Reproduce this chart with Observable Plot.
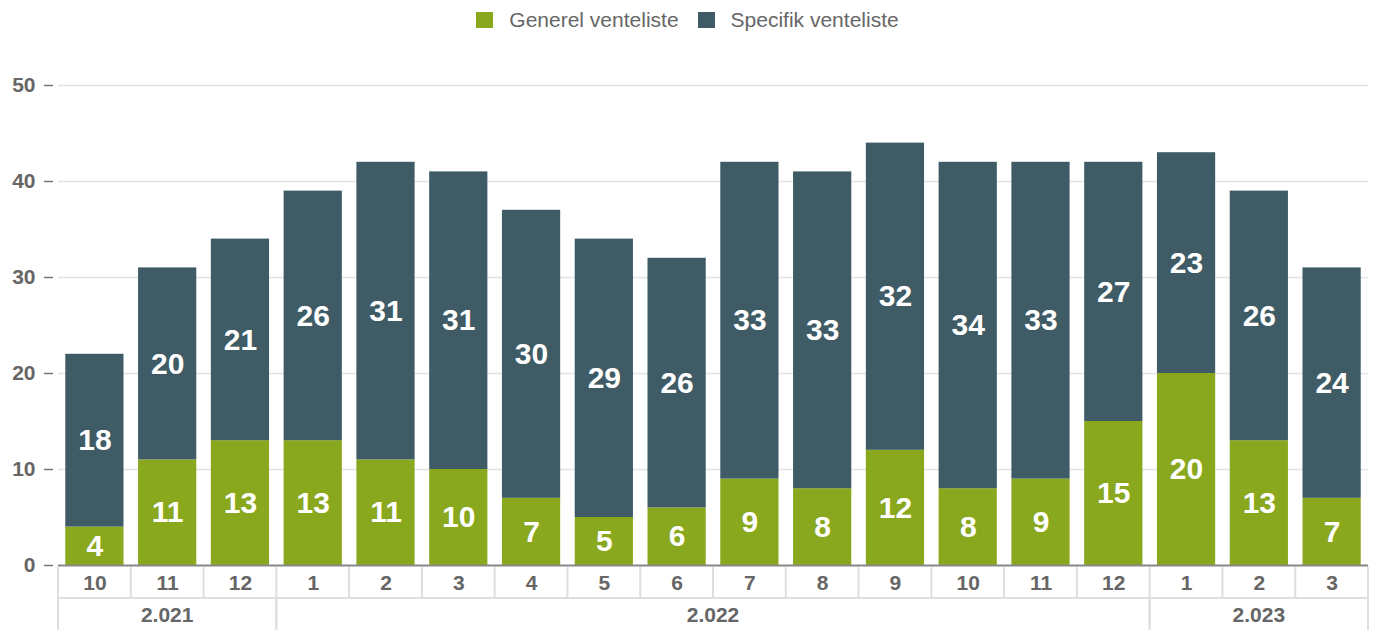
<!DOCTYPE html>
<html>
<head>
<meta charset="utf-8">
<script src="https://cdn.jsdelivr.net/npm/d3@7"></script>
<script src="https://cdn.jsdelivr.net/npm/@observablehq/plot@0.6"></script>
<style>
  html, body { margin: 0; padding: 0; background: #fff; font-family: "Liberation Sans", Arial, sans-serif; }
  #legend { height: 40px; display: flex; justify-content: center; align-items: center; font-size: 21px; color: #666; padding-left: 0px; box-sizing: border-box; }
  .item { display: flex; align-items: center; margin: 0 9.5px; }
  .sw { width: 17px; height: 16px; margin-right: 16px; }
</style>
</head>
<body>
<div id="legend"></div>
<div id="chart"></div>
<script>
const months = ["10","11","12","1","2","3","4","5","6","7","8","9","10","11","12","1","2","3"];
const years  = ["2021","2021","2021","2022","2022","2022","2022","2022","2022","2022","2022","2022","2022","2022","2022","2023","2023","2023"];
const yearLabels = [["2021","2.021"],["2022","2.022"],["2023","2.023"]];
const generel  = [4,11,13,13,11,10,7,5,6,9,8,12,8,9,15,20,13,7];
const specifik = [18,20,21,26,31,31,30,29,26,33,33,32,34,33,27,23,26,24];
const seriesNames = ["Generel venteliste", "Specifik venteliste"];
const seriesColors = ["#8aa81e", "#3f5c66"];

const keys = months.map((m, i) => years[i] + "-" + m);
const monthOf = new Map(keys.map((k, i) => [k, months[i]]));
const rows = [];
keys.forEach((k, i) => rows.push({key: k, series: seriesNames[0], value: generel[i]}));
keys.forEach((k, i) => rows.push({key: k, series: seriesNames[1], value: specifik[i]}));

// legend
const legend = document.getElementById("legend");
seriesNames.forEach((s, i) => {
  const it = document.createElement("div"); it.className = "item";
  const sw = document.createElement("div"); sw.className = "sw"; sw.style.background = seriesColors[i];
  const tx = document.createElement("span"); tx.textContent = s;
  it.appendChild(sw); it.appendChild(tx); legend.appendChild(it);
});

const W = 1375, H = 590, ML = 58, MR = 7, MT = 45, MB = 65;
const font = "Liberation Sans, Arial, sans-serif";

const plot = Plot.plot({
  width: W, height: H,
  marginLeft: ML, marginRight: MR, marginTop: MT, marginBottom: MB,
  style: {fontFamily: font, background: "#fff"},
  x: {domain: keys, padding: 0.2, paddingInner: 0.2, paddingOuter: 0.1, round: false, label: null},
  y: {domain: [0, 50], ticks: [0,10,20,30,40,50], label: null},
  color: {domain: seriesNames, range: seriesColors},
  marks: [
    Plot.gridY({ticks: [10,20,30,40,50], stroke: "#e3e3e3", strokeOpacity: 1, strokeWidth: 1.5}),
    Plot.axisY({ticks: [0,10,20,30,40,50], tickSize: 9, dx: -5, tickPadding: 9, fontSize: 21, fontWeight: "bold", fill: "#666", stroke: "#777", strokeWidth: 1.5, label: null}),
    Plot.axisX({tickSize: 0, tickPadding: 10, fontSize: 21, fontWeight: "bold", fill: "#666", tickFormat: k => monthOf.get(k), label: null}),
    Plot.barY(rows, Plot.stackY({x: "key", y: "value", z: "series", fill: "series", order: null})),
    Plot.ruleY([0], {stroke: "#888", strokeWidth: 2}),
    Plot.text(rows, Plot.stackY({x: "key", y: "value", z: "series", text: d => String(d.value), order: null, fill: "#fff", fontSize: 30, fontWeight: "bold", dy: 0}))
  ]
});

// axis table (cell borders and year labels) built from Plot's x scale
const x = plot.scale("x");
const gap = x.step - x.bandwidth;
const base = H - MB;
const row1 = base + 2, row2 = base + 33, row3 = H;
const bound = i => x.apply(keys[0]) - gap / 2 + i * x.step;
const svg = d3.select(plot);
const g = svg.append("g").attr("stroke", "#dedede").attr("stroke-width", 2);
for (let i = 0; i <= keys.length; i++) {
  g.append("line").attr("x1", bound(i)).attr("x2", bound(i)).attr("y1", row1).attr("y2", row2);
}
g.append("line").attr("x1", bound(0)).attr("x2", bound(keys.length)).attr("y1", row2).attr("y2", row2);
let start = 0;
const tg = svg.append("g").attr("font-family", font).attr("font-size", 21).attr("font-weight", "bold").attr("fill", "#666").attr("text-anchor", "middle");
yearLabels.forEach(([y, lab]) => {
  const n = years.filter(v => v === y).length;
  const a = bound(start), b = bound(start + n);
  g.append("line").attr("x1", a).attr("x2", a).attr("y1", row2).attr("y2", row3);
  g.append("line").attr("x1", b).attr("x2", b).attr("y1", row2).attr("y2", row3);
  tg.append("text").attr("x", (a + b) / 2).attr("y", (row2 + row3) / 2).attr("dy", "0.36em").text(lab);
  start += n;
});

document.getElementById("chart").appendChild(plot);
</script>
</body>
</html>
